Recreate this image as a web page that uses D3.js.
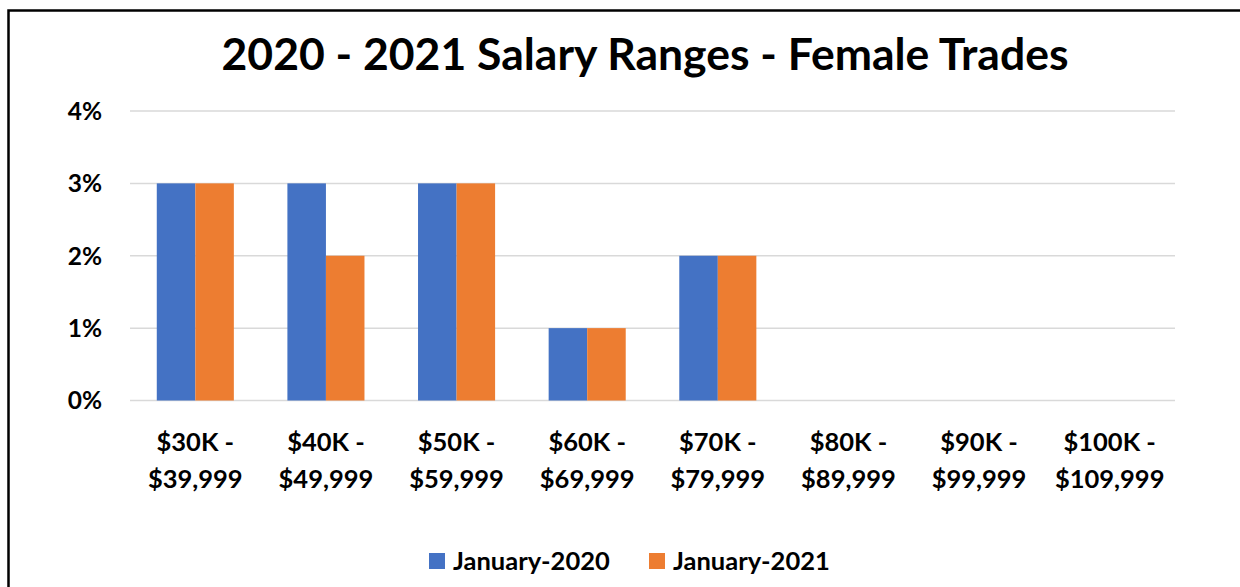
<!DOCTYPE html>
<html>
<head>
<meta charset="utf-8">
<script src="https://cdn.jsdelivr.net/npm/d3@7"></script>
<style>
  body { margin: 0; background: #fff; }
  svg { display: block; }
  text { font-family: Lato, "Open Sans", sans-serif; font-weight: 700; fill: #000; }
</style>
</head>
<body>
<svg id="chart"></svg>
<script>
const CATEGORIES = [
    ["$30K -", "$39,999"],
    ["$40K -", "$49,999"],
    ["$50K -", "$59,999"],
    ["$60K -", "$69,999"],
    ["$70K -", "$79,999"],
    ["$80K -", "$89,999"],
    ["$90K -", "$99,999"],
    ["$100K -", "$109,999"]
];
const SERIES_NAMES = ["January-2020", "January-2021"];
const JAN_2020 = [3, 3, 3, 1, 2, 0, 0, 0];
const JAN_2021 = [3, 2, 3, 1, 2, 0, 0, 0];
const Y_TICKS = [0, 1, 2, 3, 4];
const COLOURS = ["#4472C4", "#ED7D31"];

const WIDTH = 1240;
const HEIGHT = 587;
const PLOT = { left: 130, right: 1175, top: 111, bottom: 400.5 };

let svg = d3.select("#chart")
    .attr("width", WIDTH)
    .attr("height", HEIGHT);

// outer frame (runs off the right and bottom of the picture)
svg.append("rect")
    .attr("x", 8.5).attr("y", 10.5)
    .attr("width", 1260).attr("height", 620)
    .style("fill", "none")
    .style("stroke", "#000")
    .style("stroke-width", 2.5);

svg.append("text")
    .attr("x", 645)
    .attr("y", 70)
    .attr("text-anchor", "middle")
    .attr("font-size", "44.5px")
    .text("2020 - 2021 Salary Ranges - Female Trades");

let xScale = d3.scaleBand()
    .domain(d3.range(CATEGORIES.length))
    .range([PLOT.left, PLOT.right])
    .paddingInner(0.41)
    .paddingOuter(0.205);

let subScale = d3.scaleBand()
    .domain(d3.range(SERIES_NAMES.length))
    .range([0, xScale.bandwidth()]);

let yScale = d3.scaleLinear()
    .domain([0, 4])
    .range([PLOT.bottom, PLOT.top]);

// gridlines
svg.append("g")
    .selectAll("line")
    .data(Y_TICKS)
    .enter()
    .append("line")
    .attr("x1", PLOT.left)
    .attr("x2", PLOT.right)
    .attr("y1", function (d) { return yScale(d); })
    .attr("y2", function (d) { return yScale(d); })
    .style("stroke", "#d9d9d9")
    .style("stroke-width", 1.5);

// y labels
svg.append("g")
    .selectAll("text")
    .data(Y_TICKS)
    .enter()
    .append("text")
    .attr("x", 102)
    .attr("y", function (d) { return yScale(d); })
    .attr("dy", "0.36em")
    .attr("text-anchor", "end")
    .attr("font-size", "24.5px")
    .text(function (d) { return d + "%"; });

// bars
let seriesData = [JAN_2020, JAN_2021];
seriesData.forEach(function (values, s) {
    svg.append("g")
        .selectAll("rect")
        .data(values)
        .enter()
        .append("rect")
        .attr("x", function (d, i) { return xScale(i) + subScale(s); })
        .attr("y", function (d) { return yScale(d); })
        .attr("width", subScale.bandwidth())
        .attr("height", function (d) { return PLOT.bottom - yScale(d); })
        .style("fill", COLOURS[s]);
});

// x labels
let xLabels = svg.append("g")
    .selectAll("text")
    .data(CATEGORIES)
    .enter()
    .append("text")
    .attr("text-anchor", "middle")
    .attr("font-size", "25.5px");
xLabels.append("tspan")
    .attr("x", function (d, i) { return xScale(i) + xScale.bandwidth() / 2; })
    .attr("y", 451)
    .text(function (d) { return d[0]; });
xLabels.append("tspan")
    .attr("x", function (d, i) { return xScale(i) + xScale.bandwidth() / 2; })
    .attr("y", 488)
    .text(function (d) { return d[1]; });

// legend
let legendX = [429, 649];
let legend = svg.append("g")
    .selectAll("g")
    .data(SERIES_NAMES)
    .enter()
    .append("g")
    .attr("transform", function (d, i) { return "translate(" + legendX[i] + ",553)"; });
legend.append("rect")
    .attr("width", 16)
    .attr("height", 16)
    .style("fill", function (d, i) { return COLOURS[i]; });
legend.append("text")
    .attr("x", 24)
    .attr("y", 8)
    .attr("dy", "0.36em")
    .attr("font-size", "25.5px")
    .text(function (d) { return d; });
</script>
</body>
</html>
